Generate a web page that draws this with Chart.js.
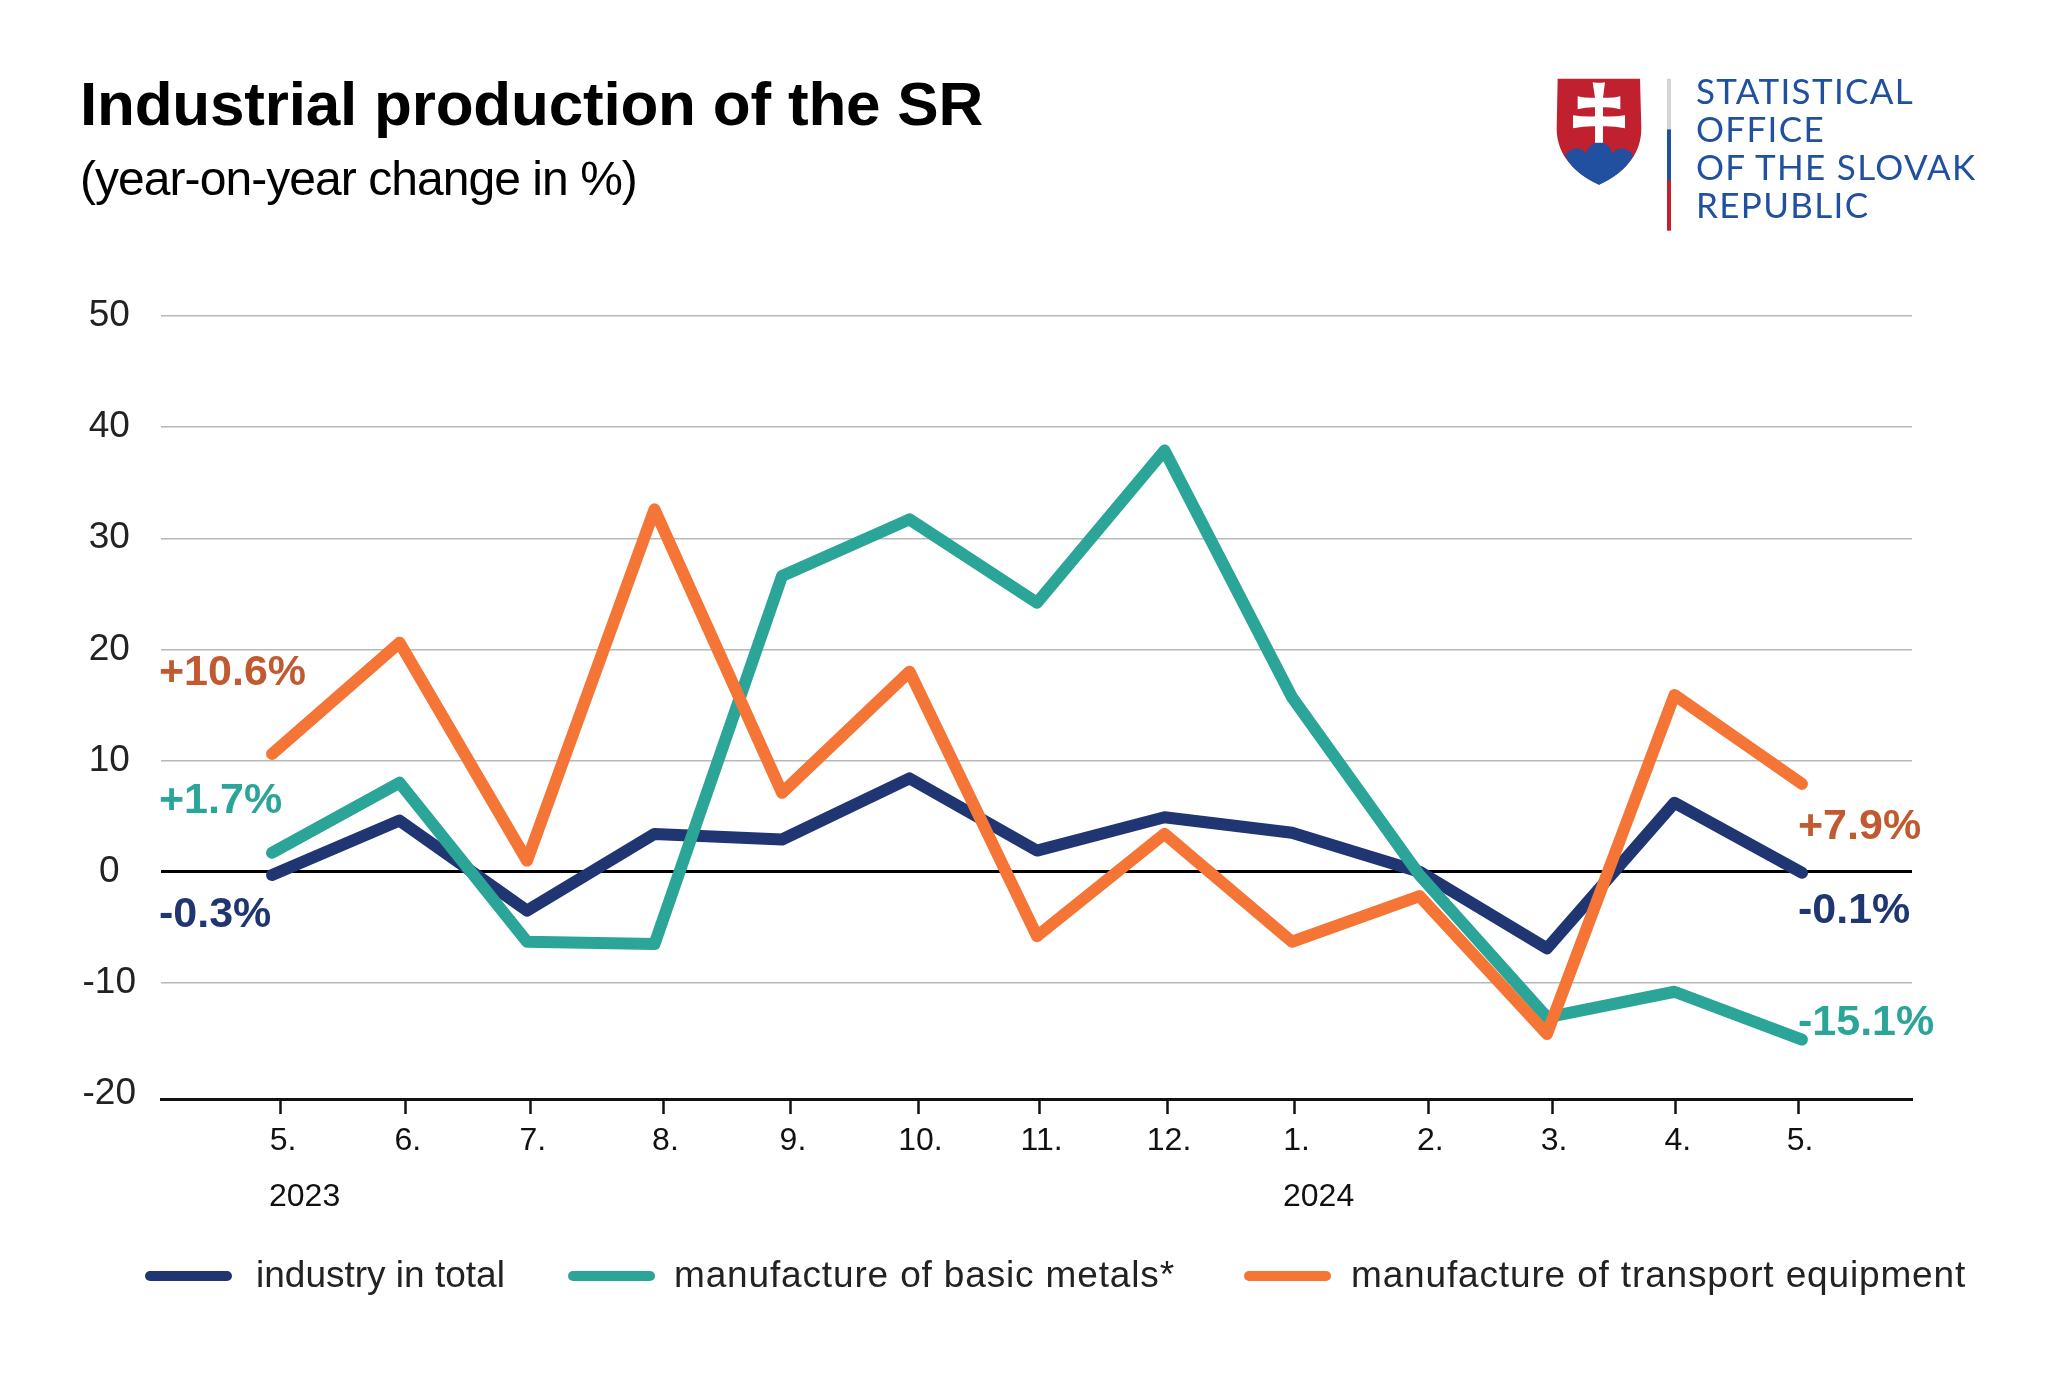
<!DOCTYPE html>
<html>
<head>
<meta charset="utf-8">
<title>Industrial production of the SR</title>
<script src="https://cdn.jsdelivr.net/npm/chart.js@4"></script>
<style>
  html, body { margin: 0; padding: 0; background: #fff; }
  #page { position: relative; width: 2048px; height: 1375px; overflow: hidden; font-family: "Liberation Sans", Arial, sans-serif; }
  #page canvas { position: absolute; left: 0; top: 0; }
  .head { position: absolute; left: 80px; white-space: nowrap; color: #000; line-height: 1; }
  #title { top: 73px; font-size: 62px; font-weight: bold; letter-spacing: -0.2px; }
  #subtitle { top: 155px; font-size: 48px; letter-spacing: -0.95px; }
  #logo { position: absolute; left: 1500px; top: 50px; }
  #logo text { font-family: Lato, sans-serif; font-size: 105px; fill: #2150a0; letter-spacing: 4px; }
</style>
</head>
<body>
<div id="page">
  <canvas id="chartID" width="2048" height="1375"></canvas>
  <div class="head" id="title">Industrial production of the SR</div>
  <div class="head" id="subtitle">(year-on-year change in %)</div>
  <svg id="logo" width="520" height="200" viewBox="0 0 1560 600">
    <path d="M173 86 H420 L424 235 C424 300 390 360 297 404 C204 360 170 300 170 235 Z" fill="#c1202e"/>
    <path d="M195 318 C205 295 245 285 258 312 C270 265 325 265 338 312 C352 285 390 295 400 318 C375 362 335 388 297 404 C259 388 219 362 195 318 Z" fill="#2150a0"/>
    <path d="M278 97 Q297 100 315 97 L309 143 Q335 145 361 139 V178 Q335 171 309 172 V199 Q340 201 375 196 V235 Q340 228 309 229 V278 H285 V229 Q254 228 219 235 V196 Q254 201 285 199 V172 Q259 171 233 178 V139 Q259 145 285 143 Z" fill="#fff"/>
    <rect x="501" y="86" width="12" height="152" fill="#d4d4d4"/>
    <rect x="501" y="238" width="12" height="152" fill="#2150a0"/>
    <rect x="501" y="390" width="12" height="152" fill="#c1202e"/>
    <text x="588" y="162">STATISTICAL</text>
    <text x="588" y="275">OFFICE</text>
    <text x="588" y="390">OF THE SLOVAK</text>
    <text x="588" y="503">REPUBLIC</text>
  </svg>
</div>
<script>
// months on the x axis, May 2023 - May 2024
let months = ["5.", "6.", "7.", "8.", "9.", "10.", "11.", "12.", "1.", "2.", "3.", "4.", "5."];

// year-on-year change in %
let industryTotal = [-0.3, 4.6, -3.5, 3.4, 2.9, 8.4, 1.9, 4.9, 3.5, 0.0, -6.9, 6.2, -0.1];
let basicMetals = [1.7, 8.0, -6.3, -6.5, 26.6, 31.7, 24.2, 37.9, 15.7, -0.3, -13.1, -10.8, -15.1];
let transportEquipment = [10.6, 20.6, 1.0, 32.6, 7.1, 18.0, -5.8, 3.4, -6.3, -2.2, -14.6, 15.9, 7.9];

let yTicks = [-20, -10, 0, 10, 20, 30, 40, 50];

// the month ticks in the picture do not sit exactly under the points
let monthTicks = [0.07, 1.05, 2.03, 3.07, 4.07, 5.07, 6.02, 7.02, 8.02, 9.07, 10.04, 11.01, 11.97];

let navy = "#203673";
let teal = "#2aa597";
let orange = "#f47535";
let darkOrange = "#c15a30";

let font = '"Liberation Sans", Arial, sans-serif';

function pairs(values) {
  return values.map(function (v, i) {
    return { x: i, y: v };
  });
}

function lineSet(label, values, color, order) {
  return {
    label: label,
    data: pairs(values),
    borderColor: color,
    backgroundColor: color,
    borderWidth: 12,
    borderCapStyle: "round",
    borderJoinStyle: "round",
    pointRadius: 0,
    tension: 0,
    order: order,
  };
}

// text next to the ends of the lines and the years under the axis
let notes = [
  { text: "+10.6%", x: 159, y: 685, color: darkOrange },
  { text: "+1.7%", x: 159, y: 813, color: teal },
  { text: "-0.3%", x: 159, y: 927, color: navy },
  { text: "+7.9%", x: 1798, y: 839, color: darkOrange },
  { text: "-0.1%", x: 1798, y: 923, color: navy },
  { text: "-15.1%", x: 1798, y: 1035, color: teal },
];
let years = [
  { text: "2023", x: 269 },
  { text: "2024", x: 1283 },
];
let legendSwatches = [145, 568, 1244];
let legendTexts = [256, 674, 1351];
let legendSpacing = ["0px", "0.85px", "0.85px"];

let annotations = {
  id: "annotations",
  afterDatasetsDraw: function (chart) {
    let ctx = chart.ctx;
    ctx.save();
    ctx.textAlign = "left";
    ctx.textBaseline = "alphabetic";

    ctx.font = "bold 43px " + font;
    notes.forEach(function (n) {
      ctx.fillStyle = n.color;
      ctx.fillText(n.text, n.x, n.y);
    });

    ctx.font = "32px " + font;
    ctx.fillStyle = "#111";
    years.forEach(function (y) {
      ctx.fillText(y.text, y.x, 1206);
    });

    // legend, laid out by hand because the gaps differ from the built in one
    ctx.font = "37px " + font;
    chart.data.datasets.forEach(function (d, i) {
      ctx.fillStyle = d.borderColor;
      ctx.beginPath();
      ctx.roundRect(legendSwatches[i], 1271, 87, 10, 5);
      ctx.fill();
      ctx.fillStyle = "#222";
      ctx.letterSpacing = legendSpacing[i];
      ctx.fillText(d.label, legendTexts[i], 1287);
    });
    ctx.restore();
  },
};

let canvas = document.querySelector("#chartID");
let context = canvas.getContext("2d");

let productionChart = new Chart(context, {
  type: "line",
  data: {
    datasets: [
      lineSet("industry in total", industryTotal, navy, 3),
      lineSet("manufacture of basic metals*", basicMetals, teal, 2),
      lineSet("manufacture of transport equipment", transportEquipment, orange, 1),
    ],
  },
  plugins: [annotations],
  options: {
    responsive: false,
    animation: false,
    layout: { padding: { left: 0, top: 316, right: 136, bottom: 0 } },
    plugins: { legend: { display: false }, tooltip: { enabled: false } },
    scales: {
      x: {
        type: "linear",
        min: -0.871,
        max: 12.863,
        afterBuildTicks: function (scale) {
          scale.ticks = monthTicks.map(function (v) {
            return { value: v };
          });
        },
        afterFit: function (scale) {
          scale.height = 276;
        },
        border: { color: "#111", width: 3 },
        grid: { drawOnChartArea: false, tickLength: 15, tickColor: "#111", tickWidth: 2.5 },
        ticks: {
          autoSkip: false,
          maxRotation: 0,
          padding: 8,
          labelOffset: 2,
          color: "#111",
          font: { family: font, size: 32 },
          callback: function (value, index) {
            return months[index];
          },
        },
      },
      y: {
        min: -20.45,
        max: 50,
        afterBuildTicks: function (scale) {
          scale.ticks = yTicks.map(function (v) {
            return { value: v };
          });
        },
        afterFit: function (scale) {
          scale.width = 161;
        },
        border: { display: false },
        grid: {
          drawTicks: false,
          color: function (c) {
            if (c.tick.value === 0) return "#000";
            if (c.tick.value === -20) return "rgba(0,0,0,0)";
            return "#b8b8b8";
          },
          lineWidth: function (c) {
            return c.tick.value === 0 ? 3 : 1.5;
          },
        },
        ticks: {
          crossAlign: "center",
          padding: 25,
          color: "#222",
          font: { family: font, size: 37 },
        },
      },
    },
  },
});
</script>
</body>
</html>
